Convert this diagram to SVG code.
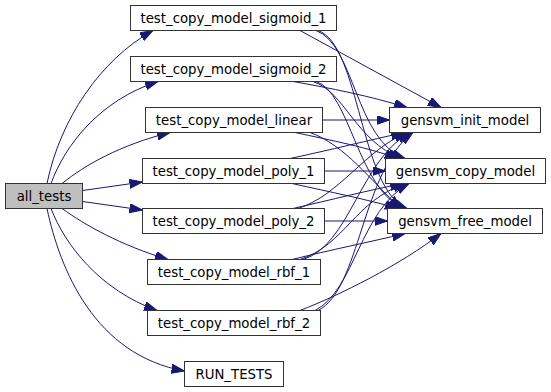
<svg xmlns="http://www.w3.org/2000/svg" width="551" height="392" viewBox="0 0 551 392">
  <style>
    .node rect { fill: #ffffff; stroke: #333333; stroke-width: 1; }
    .node.root rect { fill: #bfbfbf; }
    .node text { font-family: "DejaVu Sans", sans-serif; font-size: 13.3px; fill: #000000; text-anchor: middle; }
    .edges path { fill: none; stroke: #191970; stroke-width: 1; marker-end: url(#arrow); }
  </style>
  <defs>
    <marker id="arrow" markerUnits="userSpaceOnUse" markerWidth="14" markerHeight="10" refX="13" refY="4.5" orient="auto">
      <path d="M0,0 L13,4.5 L0,9 Z" fill="#191970" stroke="#191970" stroke-width="1"/>
    </marker>
  </defs>
  <rect width="551" height="392" fill="#ffffff"/>

  <g class="edges" id="edges">
    <!-- all_tests to its callees -->
    <path d="M47,183.5 C60,120 100,60 153,30.5"/>
    <path d="M51,183.5 C65,145 100,100 158,81.5"/>
    <path d="M62,183.5 C85,165 120,145 170,132.5"/>
    <path d="M82.5,190.5 L142.5,182"/>
    <path d="M82.5,201.5 L142.5,210"/>
    <path d="M62,208.5 C85,225 120,245 168,259.5"/>
    <path d="M51,208.5 C65,245 100,290 157,310.5"/>
    <path d="M47,208.5 C60,270 95,355 184.5,371"/>

    <!-- test_copy_model_sigmoid_1 -->
    <path d="M300,30.5 L441,107.5"/>
    <path d="M316,30.5 C355,45 355,140 405,158.5"/>
    <path d="M318,30.5 C360,45 360,190 407,208.5"/>
    <!-- test_copy_model_sigmoid_2 -->
    <path d="M293,81.5 C330,88 370,96 407,107.5"/>
    <path d="M313,81.5 C345,92 355,140 401,158.5"/>
    <path d="M316,81.5 C350,92 358,190 404,208.5"/>
    <!-- test_copy_model_linear -->
    <path d="M322.5,120 L389.5,120"/>
    <path d="M295,132.5 C330,140 370,148 398,158.5"/>
    <path d="M310,132.5 C345,145 370,180 401,208.5"/>
    <!-- test_copy_model_poly_1 -->
    <path d="M290,158.5 C330,150 370,140 404,132.5"/>
    <path d="M324.5,171 L385.5,171"/>
    <path d="M292,183.5 C330,192 370,200 398,208.5"/>
    <!-- test_copy_model_poly_2 -->
    <path d="M298,208.5 C340,195 365,150 407,132.5"/>
    <path d="M293,208.5 C330,200 370,190 403,183.5"/>
    <path d="M324.5,221 L387.5,221"/>
    <!-- test_copy_model_rbf_1 -->
    <path d="M303,259.5 C350,245 360,160 410,132.5"/>
    <path d="M300,259.5 C345,245 355,200 406,183.5"/>
    <path d="M292,259.5 C330,250 370,242 405,233.5"/>
    <!-- test_copy_model_rbf_2 -->
    <path d="M318,310.5 C360,290 362,170 413,132.5"/>
    <path d="M315,310.5 C355,290 360,210 409,183.5"/>
    <path d="M300,310.5 C340,295 400,265 441,233.5"/>
  </g>

  <g class="node root" id="node_all_tests">
    <rect x="5.5" y="183.5" width="77" height="25"/>
    <text x="44" y="200.5">all_tests</text>
  </g>
  <g class="node" id="node_sigmoid_1">
    <rect x="130.5" y="5.5" width="206" height="25"/>
    <text x="233.5" y="22.5">test_copy_model_sigmoid_1</text>
  </g>
  <g class="node" id="node_sigmoid_2">
    <rect x="130.5" y="56.5" width="206" height="25"/>
    <text x="233.5" y="73.5">test_copy_model_sigmoid_2</text>
  </g>
  <g class="node" id="node_linear">
    <rect x="145.5" y="107.5" width="177" height="25"/>
    <text x="234" y="124.5">test_copy_model_linear</text>
  </g>
  <g class="node" id="node_poly_1">
    <rect x="142.5" y="158.5" width="182" height="25"/>
    <text x="233.5" y="175.5">test_copy_model_poly_1</text>
  </g>
  <g class="node" id="node_poly_2">
    <rect x="142.5" y="208.5" width="182" height="25"/>
    <text x="233.5" y="225.5">test_copy_model_poly_2</text>
  </g>
  <g class="node" id="node_rbf_1">
    <rect x="147.5" y="259.5" width="173" height="25"/>
    <text x="234" y="276.5">test_copy_model_rbf_1</text>
  </g>
  <g class="node" id="node_rbf_2">
    <rect x="147.5" y="310.5" width="173" height="25"/>
    <text x="234" y="327.5">test_copy_model_rbf_2</text>
  </g>
  <g class="node" id="node_run_tests">
    <rect x="184.5" y="361.5" width="99" height="25"/>
    <text x="234" y="378.5">RUN_TESTS</text>
  </g>
  <g class="node" id="node_init_model">
    <rect x="389.5" y="107.5" width="151" height="25"/>
    <text x="465" y="124.5">gensvm_init_model</text>
  </g>
  <g class="node" id="node_copy_model">
    <rect x="385.5" y="158.5" width="160" height="25"/>
    <text x="465.5" y="175.5">gensvm_copy_model</text>
  </g>
  <g class="node" id="node_free_model">
    <rect x="387.5" y="208.5" width="155" height="25"/>
    <text x="465" y="225.5">gensvm_free_model</text>
  </g>
</svg>
